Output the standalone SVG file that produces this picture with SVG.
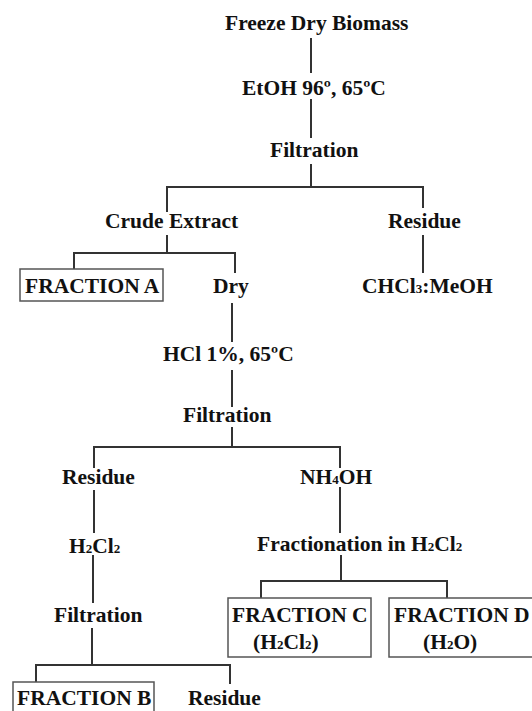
<svg xmlns="http://www.w3.org/2000/svg" width="532" height="711" viewBox="0 0 532 711">
<style>
text{font-family:"Liberation Serif","Times New Roman",serif;font-weight:bold;font-size:21.5px;fill:#111}
.sub{font-size:13px}
.c line,.c polyline{stroke:#333;stroke-width:2;fill:none}
.box{fill:none;stroke:#555;stroke-width:1.5}
</style>
<rect width="532" height="711" fill="#fff"/>
<g class="c" id="connectors">
<line x1="311" y1="38" x2="311" y2="73"/>
<line x1="311" y1="99" x2="311" y2="138"/>
<line x1="311" y1="164" x2="311" y2="187"/>
<polyline points="167,212 167,187 423,187 423,208"/>
<line x1="167" y1="235" x2="167" y2="253"/>
<polyline points="74,269 74,253 235,253 235,273"/>
<line x1="423" y1="235" x2="423" y2="273"/>
<line x1="232" y1="303" x2="232" y2="342"/>
<line x1="232" y1="370" x2="232" y2="407"/>
<line x1="232" y1="427" x2="232" y2="447"/>
<polyline points="94,468 94,447 340,447 340,468"/>
<line x1="94" y1="490" x2="94" y2="533"/>
<line x1="340" y1="487" x2="340" y2="533"/>
<line x1="341" y1="555" x2="341" y2="581"/>
<polyline points="261,598 261,581 447,581 447,598"/>
<line x1="93" y1="555" x2="93" y2="603"/>
<line x1="92" y1="628" x2="92" y2="665"/>
<polyline points="36,682 36,665 230,665 230,684"/>
</g>
<g id="n-biomass"><text x="225" y="30">Freeze Dry Biomass</text></g>
<g id="n-etoh"><text x="242" y="95">EtOH 96º, 65ºC</text></g>
<g id="n-filt1"><text x="270" y="157">Filtration</text></g>
<g id="n-crude"><text x="105" y="228">Crude Extract</text></g>
<g id="n-res1"><text x="388" y="228">Residue</text></g>
<g id="n-fracA"><rect class="box" x="20" y="269" width="143" height="32"/><text x="25" y="293">FRACTION A</text></g>
<g id="n-dry"><text x="213" y="293">Dry</text></g>
<g id="n-chcl3"><text x="362" y="293">CHCl<tspan class="sub">3</tspan>:MeOH</text></g>
<g id="n-hcl"><text x="163" y="361">HCl 1%, 65ºC</text></g>
<g id="n-filt2"><text x="183" y="422">Filtration</text></g>
<g id="n-res2"><text x="62" y="484">Residue</text></g>
<g id="n-nh4oh"><text x="300" y="484">NH<tspan class="sub">4</tspan>OH</text></g>
<g id="n-h2cl2"><text x="69" y="553">H<tspan class="sub">2</tspan>Cl<tspan class="sub">2</tspan></text></g>
<g id="n-fractionation"><text x="257" y="551">Fractionation in H<tspan class="sub">2</tspan>Cl<tspan class="sub">2</tspan></text></g>
<g id="n-fracC"><rect class="box" x="228" y="598" width="143" height="59"/><text x="232" y="622">FRACTION C</text><text x="253" y="649">(H<tspan class="sub">2</tspan>Cl<tspan class="sub">2</tspan>)</text></g>
<g id="n-fracD"><rect class="box" x="389" y="598" width="160" height="59"/><text x="394" y="622">FRACTION D</text><text x="423" y="649">(H<tspan class="sub">2</tspan>O)</text></g>
<g id="n-filt3"><text x="54" y="622">Filtration</text></g>
<g id="n-fracB"><rect class="box" x="13" y="682" width="141" height="40"/><text x="17" y="705">FRACTION B</text></g>
<g id="n-res3"><text x="188" y="705">Residue</text></g>
</svg>
